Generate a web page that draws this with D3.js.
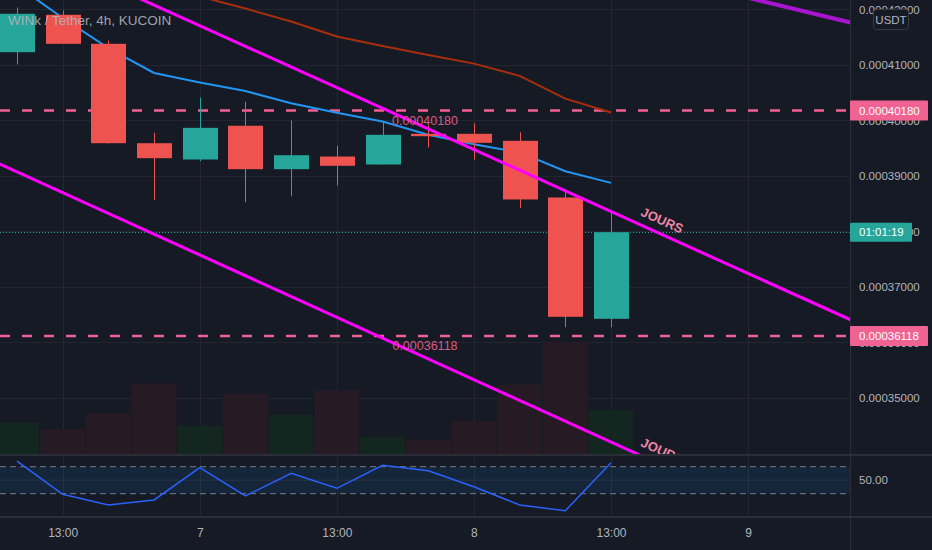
<!DOCTYPE html>
<html><head><meta charset="utf-8">
<script src="https://cdn.jsdelivr.net/npm/d3@7"></script>
<style>
html,body{margin:0;padding:0;background:#161a25;}
svg{display:block;}
</style></head><body>
<svg id="c" width="932" height="550"></svg>
<script>
// ---------- DATA ----------
const title = "WINk / Tether, 4h, KUCOIN";
const barIndex = [0,1,2,3,4,5,6,7,8,9,10,11,12,13];
const opens  = [0.00041231,0.00041905,0.00041382,0.00039591,0.00039297,0.00039905,0.00039123,0.00039351,0.00039207,0.00039760,0.00039760,0.00039634,0.00038613,0.00036427];
const highs  = [0.00042036,0.00041982,0.00041441,0.00039778,0.00040414,0.00040337,0.00040000,0.00039544,0.00039987,0.00039910,0.00039951,0.00039789,0.00038757,0.00038378];
const lows   = [0.00041009,0.00041378,0.00039585,0.00038571,0.00039267,0.00038528,0.00038636,0.00038829,0.00039207,0.00039514,0.00039292,0.00038427,0.00036276,0.00036276];
const closes = [0.00041923,0.00041382,0.00039591,0.00039321,0.00039868,0.00039123,0.00039375,0.00039184,0.00039742,0.00039717,0.00039598,0.00038577,0.00036463,0.00037987];
const volumes = [31.3,24.7,40.7,70.7,28.0,60.0,39.0,63.7,17.3,14.0,33.0,69.3,112.3,44.0];
const maFast = [0.00042432,0.00041847,0.00041303,0.00040856,0.00040685,0.00040530,0.00040310,0.00040141,0.00039982,0.00039742,0.00039571,0.00039425,0.00039085,0.00038876];
const maSlow = [0.00043243,0.00042991,0.00042739,0.00042486,0.00042234,0.00042018,0.00041784,0.00041514,0.00041341,0.00041182,0.00041025,0.00040804,0.00040393,0.00040144];
const rsiValues = [78.4,29.1,13.3,20.7,68.5,26.6,60.2,38.0,72.1,64.1,40.4,13.3,4.8,75.9];
const priceTicks = [0.00042,0.00041,0.00040,0.00039,0.00038,0.00037,0.00036,0.00035];
const timeTickIndex = [1,4,7,10,13,16];
const timeTickLabels = ["13:00","7","13:00","8","13:00","9"];
const levelPrices = [0.00040180,0.00036118];
const lastPrice = 0.00037987;
const countdown = "01:01:19";
const rsiBands = [70,30];
const rsiMid = 50;
const trendUpper = [[2,0.00042452],[18.5,0.00036314]];
const trendLower = [[-0.5,0.00039263],[14.5,0.00033645]];
const trendTop = [[15.5,0.00042310],[18.5,0.00041714]];
const trendLabel = "JOURS";
const trendLabelIndex = 14;
const currency = "USDT";

// ---------- LAYOUT ----------
const W=932,H=550,plotR=850,priceBottom=454,rsiTop=456,rsiBottom=516,axisTop=518;
const FONT='"Liberation Sans", Arial, sans-serif';
const BG='#161a25', GRID='#232632', TXT='#b2b5be', SEP='#2a2e39';
const UP='#26a69a', DOWN='#ef5350', PINK='#f06292';

const svg=d3.select('#c');
svg.append('rect').attr('width',W).attr('height',H).attr('fill',BG);
const defs=svg.append('defs');
defs.append('clipPath').attr('id','cp').append('rect').attr('x',0).attr('y',0).attr('width',plotR).attr('height',priceBottom);
defs.append('clipPath').attr('id','cr').append('rect').attr('x',0).attr('y',rsiTop).attr('width',plotR).attr('height',rsiBottom-rsiTop);

const x=d3.scaleLinear().domain([-0.372,18.23]).range([0,plotR]);
const step=x(1)-x(0);
const y=d3.scaleLinear().domain([0.00035,0.00041]).range([398,65]);
const yv=d3.scaleLinear().domain([0,d3.max(volumes)]).range([priceBottom,341.7]);
const yr=d3.scaleLinear().domain([30,70]).range([493.7,466.7]);

// grid
const g=svg.append('g');
g.selectAll('.hg').data(priceTicks).join('line')
 .attr('x1',0).attr('x2',plotR).attr('y1',d=>Math.round(y(d))+0.5).attr('y2',d=>Math.round(y(d))+0.5)
 .attr('stroke',GRID).attr('stroke-width',1);
g.selectAll('.vg').data(timeTickIndex).join('line')
 .attr('x1',d=>Math.round(x(d))+0.5).attr('x2',d=>Math.round(x(d))+0.5).attr('y1',0).attr('y2',rsiBottom)
 .attr('stroke',GRID).attr('stroke-width',1);

// price pane
const pp=svg.append('g').attr('clip-path','url(#cp)');
pp.selectAll('.vol').data(barIndex).join('rect')
 .attr('x',i=>x(i)-step/2+0.5).attr('width',step-1)
 .attr('y',i=>yv(volumes[i])).attr('height',i=>priceBottom-yv(volumes[i]))
 .attr('fill',i=>closes[i]>=opens[i]?'#13261f':'#261b25');

// RSI pane
const rp=svg.append('g').attr('clip-path','url(#cr)');
rp.append('rect').attr('x',0).attr('width',plotR).attr('y',yr(rsiBands[0])).attr('height',yr(rsiBands[1])-yr(rsiBands[0]))
 .attr('fill','#2196f3').attr('fill-opacity',0.1);
rp.append('line').attr('x1',0).attr('x2',plotR).attr('y1',yr(rsiMid)).attr('y2',yr(rsiMid)).attr('stroke','#2a3347').attr('stroke-width',1);
rp.selectAll('.band').data(rsiBands).join('line')
 .attr('x1',0).attr('x2',plotR).attr('y1',d=>yr(d)).attr('y2',d=>yr(d))
 .attr('stroke','#787b86').attr('stroke-width',1).attr('stroke-dasharray','6,4');
rp.append('path').datum(barIndex)
 .attr('d',d3.line().x(i=>x(i)).y(i=>yr(rsiValues[i])))
 .attr('fill','none').attr('stroke','#2962ff').attr('stroke-width',1.5);

// horizontal levels
pp.selectAll('.lvl').data(levelPrices).join('line')
 .attr('x1',0).attr('x2',plotR).attr('y1',d=>y(d)).attr('y2',d=>y(d))
 .attr('stroke',PINK).attr('stroke-width',2.5).attr('stroke-dasharray','10,12');
pp.append('line').attr('x1',0).attr('x2',plotR).attr('y1',Math.round(y(lastPrice))+0.5).attr('y2',Math.round(y(lastPrice))+0.5)
 .attr('stroke',UP).attr('stroke-width',1).attr('stroke-dasharray','1,2');

// moving averages
pp.append('path').datum(barIndex).attr('d',d3.line().x(i=>x(i)).y(i=>y(maSlow[i])))
 .attr('fill','none').attr('stroke','#a82e0c').attr('stroke-width',2);
pp.append('path').datum(barIndex).attr('d',d3.line().x(i=>x(i)).y(i=>y(maFast[i])))
 .attr('fill','none').attr('stroke','#2196f3').attr('stroke-width',2);

// candles
const cg=pp.append('g');
cg.selectAll('.wick').data(barIndex).join('line')
 .attr('x1',i=>Math.round(x(i))+0.5).attr('x2',i=>Math.round(x(i))+0.5)
 .attr('y1',i=>y(highs[i])).attr('y2',i=>y(lows[i]))
 .attr('stroke',i=>closes[i]>=opens[i]?UP:DOWN).attr('stroke-width',1);
const bw=step*0.766;
cg.selectAll('.body').data(barIndex).join('rect')
 .attr('x',i=>Math.round(x(i))+0.5-bw/2).attr('width',bw)
 .attr('y',i=>y(Math.max(opens[i],closes[i])))
 .attr('height',i=>Math.max(1.5,Math.abs(y(opens[i])-y(closes[i]))))
 .attr('fill',i=>closes[i]>=opens[i]?UP:DOWN);

// trend lines
function tl(pts,color,w){
  pp.append('line').attr('x1',x(pts[0][0])).attr('y1',y(pts[0][1])).attr('x2',x(pts[1][0])).attr('y2',y(pts[1][1]))
   .attr('stroke',color).attr('stroke-width',w).attr('stroke-linecap','round');
}
tl(trendUpper,'#ff00ff',3);
tl(trendLower,'#ff00ff',3);
tl(trendTop,'#a815d0',4);

function tlabel(pts){
  const x1=x(pts[0][0]),y1=y(pts[0][1]),x2=x(pts[1][0]),y2=y(pts[1][1]);
  const ang=Math.atan2(y2-y1,x2-x1);
  const px=x(trendLabelIndex);
  const py=y1+(y2-y1)*(px-x1)/(x2-x1);
  const off=13;
  const cx=px+Math.sin(ang)*off, cy=py-Math.cos(ang)*off;
  pp.append('text').attr('transform',`translate(${cx},${cy}) rotate(${ang*180/Math.PI})`)
   .attr('text-anchor','middle').attr('dominant-baseline','central')
   .attr('font-family',FONT).attr('font-size',13).attr('font-weight','bold')
   .attr('fill','#ee86a6').text(trendLabel);
}
tlabel(trendUpper);
tlabel(trendLower);

// level texts
pp.selectAll('.lt').data(levelPrices).join('text')
 .attr('x',plotR/2).attr('y',d=>y(d)+14).attr('text-anchor','middle')
 .attr('font-family',FONT).attr('font-size',12.5).attr('fill',PINK).attr('fill-opacity',0.9)
 .text(d=>d3.format('.8f')(d));

// title
svg.append('text').attr('x',8).attr('y',25).attr('font-family',FONT).attr('font-size',13.5)
 .attr('fill',TXT).attr('fill-opacity',0.9).text(title);

// separators
svg.append('line').attr('x1',0).attr('x2',W).attr('y1',455).attr('y2',455).attr('stroke',SEP).attr('stroke-width',2);
svg.append('line').attr('x1',0).attr('x2',W).attr('y1',517).attr('y2',517).attr('stroke',SEP).attr('stroke-width',2);
svg.append('line').attr('x1',plotR+0.5).attr('x2',plotR+0.5).attr('y1',0).attr('y2',H).attr('stroke',SEP).attr('stroke-width',1);

// axes
const ax=svg.append('g').attr('transform',`translate(${plotR},0)`)
 .call(d3.axisRight(y).tickValues(priceTicks).tickSize(0).tickPadding(9).tickFormat(d3.format('.8f')));
ax.select('.domain').remove();
ax.selectAll('text').attr('font-family',FONT).attr('font-size',11.5).attr('fill',TXT);
const axr=svg.append('g').attr('transform',`translate(${plotR},0)`)
 .call(d3.axisRight(yr).tickValues([rsiMid]).tickSize(0).tickPadding(9).tickFormat(d3.format('.2f')));
axr.select('.domain').remove();
axr.selectAll('text').attr('font-family',FONT).attr('font-size',11.5).attr('fill',TXT);
const axb=svg.append('g').attr('transform',`translate(0,${axTop=axisTop})`)
 .call(d3.axisBottom(x).tickValues(timeTickIndex).tickSize(0).tickPadding(10).tickFormat((d,i)=>timeTickLabels[i]));
axb.select('.domain').remove();
axb.selectAll('text').attr('font-family',FONT).attr('font-size',12).attr('fill',TXT);

// price labels on axis
levelPrices.forEach(p=>{
  const yy=y(p);
  svg.append('rect').attr('x',plotR).attr('y',yy-10).attr('width',78).attr('height',20).attr('rx',1).attr('fill',PINK);
  svg.append('text').attr('x',plotR+9).attr('y',yy).attr('dominant-baseline','central')
   .attr('font-family',FONT).attr('font-size',11.5).attr('fill','#ffffff').text(d3.format('.8f')(p));
});
const ly=y(lastPrice);
svg.append('rect').attr('x',plotR).attr('y',ly-9.5).attr('width',62).attr('height',19).attr('rx',1).attr('fill',UP);
svg.append('text').attr('x',plotR+9).attr('y',ly).attr('dominant-baseline','central')
 .attr('font-family',FONT).attr('font-size',11.5).attr('fill','#ffffff').text(countdown);

// currency badge
svg.append('rect').attr('x',873.5).attr('y',9.5).attr('width',35).attr('height',20).attr('rx',3)
 .attr('fill',BG).attr('stroke','#363a45');
svg.append('text').attr('x',891).attr('y',19.5).attr('text-anchor','middle').attr('dominant-baseline','central')
 .attr('font-family',FONT).attr('font-size',11.5).attr('fill',TXT).text(currency);
</script>
</body></html>
